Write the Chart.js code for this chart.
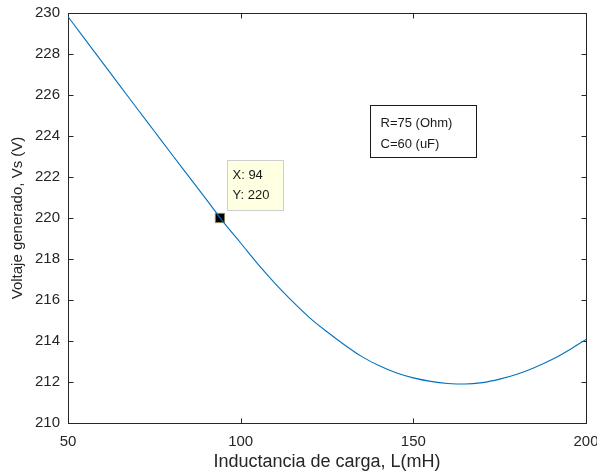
<!DOCTYPE html>
<html>
<head>
<meta charset="utf-8">
<script src="https://cdn.jsdelivr.net/npm/chart.js@4.4.1/dist/chart.umd.min.js"></script>
<style>
  html, body { margin: 0; padding: 0; background: #fff; }
  #wrap { width: 597px; height: 473px; }
</style>
</head>
<body>
<div id="wrap"><canvas id="chart" width="597" height="473"></canvas></div>
<script>
// inductance L (mH) and generated voltage Vs (V)
const inductance = [50, 55, 60, 65, 70, 75, 80, 85, 90, 95, 100, 105, 110, 115, 120, 125, 130, 135, 140, 145, 150, 155, 160, 165, 170, 175, 180, 185, 190, 195, 200];
const voltage = [229.82, 228.70, 227.58, 226.46, 225.34, 224.23, 223.12, 222.02, 220.92, 219.80, 218.78, 217.75, 216.80, 215.93, 215.13, 214.45, 213.82, 213.25, 212.80, 212.45, 212.20, 212.03, 211.93, 211.90, 211.97, 212.14, 212.38, 212.70, 213.08, 213.55, 214.08];

const xTicks = [50, 100, 150, 200];
const yTicks = [210, 212, 214, 216, 218, 220, 222, 224, 226, 228, 230];

const tipX = [94];
const tipY = [220];
const noteLines = ["R=75 (Ohm)", "C=60 (uF)"];

const FONT = "'Liberation Sans', Arial, Helvetica, sans-serif";
const AXIS = "#262626";

// MATLAB-like box with inward ticks on all four sides
const boxPlugin = {
  id: "matlabBox",
  beforeDatasetsDraw(chart) {
    const { ctx, chartArea: a, scales } = chart;
    ctx.save();
    ctx.strokeStyle = AXIS;
    ctx.lineWidth = 1;
    const L = Math.round(a.left) + 0.5, R = Math.round(a.right) + 0.5;
    const T = Math.round(a.top) + 0.5, B = Math.round(a.bottom) + 0.5;
    ctx.strokeRect(L, T, R - L, B - T);
    ctx.beginPath();
    xTicks.forEach(v => {
      const x = Math.round(scales.x.getPixelForValue(v)) + 0.5;
      ctx.moveTo(x, B); ctx.lineTo(x, B - 5);
      ctx.moveTo(x, T); ctx.lineTo(x, T + 5);
    });
    yTicks.forEach(v => {
      const y = Math.round(scales.y.getPixelForValue(v)) + 0.5;
      ctx.moveTo(L, y); ctx.lineTo(L + 5, y);
      ctx.moveTo(R, y); ctx.lineTo(R - 5, y);
    });
    ctx.stroke();
    ctx.restore();
  },
  afterDatasetsDraw(chart) {
    const { ctx, chartArea: a, scales } = chart;
    ctx.save();
    ctx.font = "13px " + FONT;
    ctx.textBaseline = "middle";

    // data tip
    const px = scales.x.getPixelForValue(tipX[0]);
    const py = scales.y.getPixelForValue(tipY[0]);
    const bx = Math.round(px + 7) + 0.5, by = Math.round(py - 58) + 0.5;
    ctx.fillStyle = "#ffffe1";
    ctx.fillRect(bx, by, 56, 50);
    ctx.strokeStyle = "#cfcfcf";
    ctx.strokeRect(bx, by, 56, 50);
    ctx.fillStyle = "#1a1a1a";
    ctx.fillText("X: " + tipX[0], bx + 5, by + 15);
    ctx.fillText("Y: " + tipY[0], bx + 5, by + 35);

    // parameter note
    const nx = Math.round(a.left + (a.right - a.left) * 0.583) + 0.5;
    const ny = Math.round(a.top + (a.bottom - a.top) * 0.225) + 0.5;
    ctx.fillStyle = "#ffffff";
    ctx.fillRect(nx, ny, 106, 52);
    ctx.strokeStyle = "#1a1a1a";
    ctx.strokeRect(nx, ny, 106, 52);
    ctx.fillStyle = "#1a1a1a";
    noteLines.forEach((t, i) => ctx.fillText(t, nx + 10, ny + 18 + i * 21));
    ctx.restore();
  }
};

new Chart(document.getElementById("chart"), {
  type: "line",
  data: {
    datasets: [
      {
        data: inductance.map((x, i) => ({ x: x, y: voltage[i] })),
        borderColor: "#0072bd",
        borderWidth: 1.1,
        pointRadius: 0,
        cubicInterpolationMode: "monotone",
        fill: false
      },
      {
        data: tipX.map((x, i) => ({ x: x, y: tipY[i] })),
        showLine: false,
        pointStyle: "rect",
        pointRadius: 6.5,
        backgroundColor: "#000000",
        borderColor: "#8a7f55",
        borderWidth: 1
      }
    ]
  },
  options: {
    responsive: false,
    animation: false,
    layout: { padding: { top: 13, right: 11, left: 0, bottom: 0 } },
    plugins: { legend: { display: false }, tooltip: { enabled: false } },
    scales: {
      x: {
        type: "linear",
        min: 50,
        max: 200,
        afterBuildTicks: s => { s.ticks = xTicks.map(v => ({ value: v })); },
        afterFit: s => { s.height = 50; s.paddingLeft = 0; s.paddingRight = 0; },
        grid: { display: false, drawTicks: false },
        border: { display: false },
        ticks: { color: AXIS, font: { family: FONT, size: 15 }, padding: 10, maxRotation: 0 },
        title: { display: true, text: "Inductancia de carga, L(mH)", color: AXIS, font: { family: FONT, size: 18 }, padding: { top: 0, bottom: 0 } }
      },
      y: {
        min: 210,
        max: 230,
        afterBuildTicks: s => { s.ticks = yTicks.map(v => ({ value: v })); },
        afterFit: s => { s.width = 68; s.paddingTop = 0; s.paddingBottom = 0; },
        grid: { display: false, drawTicks: false },
        border: { display: false },
        ticks: { color: AXIS, font: { family: FONT, size: 15 }, padding: 8 },
        title: { display: true, text: "Voltaje generado, Vs (V)", color: AXIS, font: { family: FONT, size: 15 }, padding: { top: 9, bottom: 0 } }
      }
    }
  },
  plugins: [boxPlugin]
});
</script>
</body>
</html>
